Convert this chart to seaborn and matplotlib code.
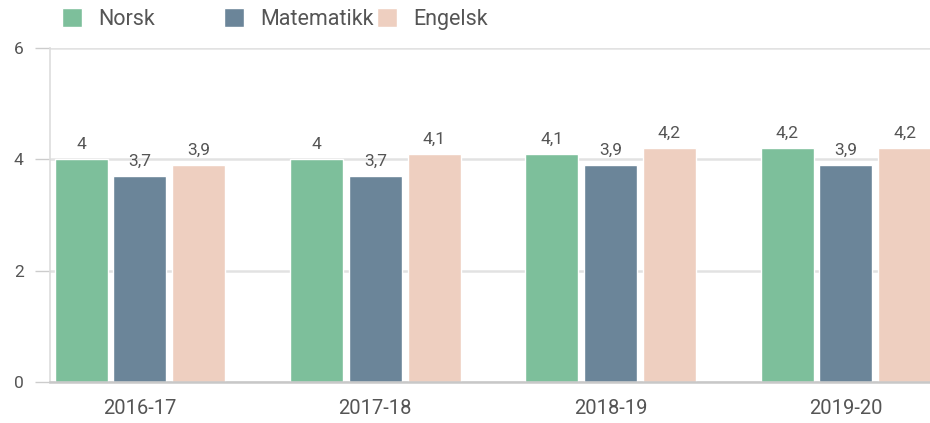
import pandas as pd
import matplotlib
matplotlib.use('Agg')
import matplotlib.pyplot as plt
import seaborn as sns

# data
years = ['2016-17', '2017-18', '2018-19', '2019-20']
subjects = ['Norsk', 'Matematikk', 'Engelsk']
norsk = [4.0, 4.0, 4.1, 4.2]
matematikk = [3.7, 3.7, 3.9, 3.9]
engelsk = [3.9, 4.1, 4.2, 4.2]
y_ticks = [0, 2, 4, 6]

colors = ['#7dbf9b', '#6b8599', '#eecfc0']

df = pd.DataFrame({'year': years * 3,
                   'subject': [s for s in subjects for _ in years],
                   'score': norsk + matematikk + engelsk})

sns.set_theme(style='white')
plt.rcParams['font.family'] = ['Roboto', 'DejaVu Sans']

fig = plt.figure(figsize=(9.3, 4.23), dpi=100)
ax = fig.add_axes([50 / 930, 1 - 382 / 423, 1 - 50 / 930, (382 - 48) / 423])

sns.barplot(data=df, x='year', y='score', hue='subject', order=years,
            hue_order=subjects, palette=colors, width=0.75, gap=0.1,
            saturation=1, ax=ax, legend=True)

# value labels with comma decimals
for cont in ax.containers:
    vals = cont.datavalues
    labels = [('%g' % v).replace('.', ',') for v in vals]
    ax.bar_label(cont, labels=labels, padding=5, fontsize=12.5, color='#555555')

ax.set_ylim(0, 6)
ax.set_xlim(-0.382, 3.357)
ax.set_yticks(y_ticks)
ax.set_xlabel('')
ax.set_ylabel('')
ax.set_axisbelow(True)
ax.yaxis.grid(True, color='#e2e2e2', linewidth=1.8)
ax.tick_params(axis='y', length=11, width=1, color='#cccccc', labelsize=12.5,
               labelcolor='#555555', pad=8, left=True)
ax.tick_params(axis='x', length=0, labelsize=14.5, labelcolor='#555555', pad=12)
for side in ['top', 'right']:
    ax.spines[side].set_visible(False)
ax.spines['left'].set_color('#dddddd')
ax.spines['left'].set_linewidth(1.2)
ax.spines['bottom'].set_color('#c8c8c8')
ax.spines['bottom'].set_linewidth(1.8)

# legend entries spread along the top
handles, labels = ax.get_legend_handles_labels()
ax.get_legend().remove()
legend_x = [53 / 930, 215 / 930, 368 / 930]
for h, lab, lx in zip(handles, labels, legend_x):
    fig.legend([h], [lab], loc='center left', bbox_to_anchor=(lx, 1 - 19 / 423),
               frameon=False, fontsize=15.5, handlelength=0.95, handleheight=0.95,
               handletextpad=0.75, labelcolor='#555555', borderaxespad=0)

plt.savefig('out.png', dpi=100)
